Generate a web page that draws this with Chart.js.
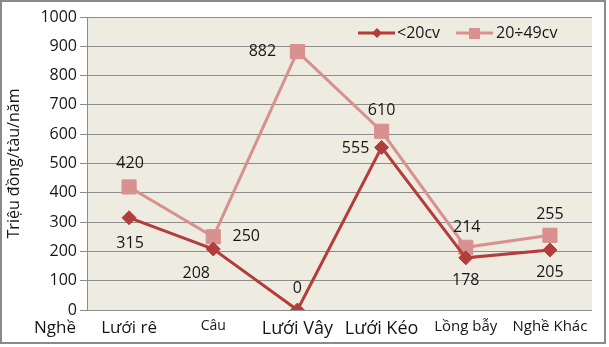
<!DOCTYPE html>
<html>
<head>
<meta charset="utf-8">
<script src="https://cdn.jsdelivr.net/npm/chart.js@4"></script>
<style>
html,body{margin:0;padding:0;background:#fff;}
#wrap{width:609px;height:347px;position:relative;}
</style>
</head>
<body>
<div id="wrap"><canvas id="c" width="609" height="347"></canvas></div>
<script>
const categories = ['Lưới rê', 'Câu', 'Lưới Vây', 'Lưới Kéo', 'Lồng bẫy', 'Nghề Khác'];
const seriesNames = ['<20cv', '20÷49cv'];
const under20 = [315, 208, 0, 555, 178, 205];
const from20to49 = [420, 250, 882, 610, 214, 255];
const yTicks = [0, 100, 200, 300, 400, 500, 600, 700, 800, 900, 1000];
const yTitle = 'Triệu đồng/tàu/năm';
const xCorner = 'Nghề';

const DARK = '#B23D3B';
const LIGHT = '#D8918F';
const TEXT = '#161616';
const FONT = "'Open Sans', sans-serif";
const catSizes = [17, 14, 18, 18, 15, 15];
// label offsets per dataset/point (dx, dy)
const labelOffsets = [
  [[1,26],[-17,24],[0,-22],[-26,1],[0,23],[0,23]],
  [[1,-24],[33,0],[-35,0],[0,-21],[1,-20],[0,-21]]
];

const framePlugin = {
  id: 'frame',
  beforeDraw(chart) {
    const ctx = chart.ctx;
    ctx.save();
    ctx.fillStyle = '#fff';
    ctx.fillRect(0, 0, chart.width, chart.height);
    const a = chart.chartArea;
    ctx.fillStyle = '#EEECE1';
    ctx.fillRect(a.left, a.top, a.right - a.left, a.bottom - a.top);
    ctx.restore();
  },
  afterDraw(chart) {
    const ctx = chart.ctx;
    ctx.save();
    ctx.strokeStyle = '#8a8a8a';
    ctx.lineWidth = 2;
    ctx.strokeRect(1, 1, 604, 342);
    // corner label
    ctx.fillStyle = TEXT;
    ctx.font = '17px ' + FONT;
    ctx.textAlign = 'center';
    ctx.textBaseline = 'middle';
    ctx.fillText(xCorner, 55, 328);
    // legend
    const ly = 33;
    ctx.lineWidth = 3;
    ctx.strokeStyle = DARK;
    ctx.beginPath(); ctx.moveTo(358, ly); ctx.lineTo(395, ly); ctx.stroke();
    ctx.fillStyle = DARK;
    ctx.beginPath();
    ctx.moveTo(377, ly - 5); ctx.lineTo(382, ly); ctx.lineTo(377, ly + 5); ctx.lineTo(372, ly);
    ctx.closePath(); ctx.fill();
    ctx.strokeStyle = LIGHT;
    ctx.beginPath(); ctx.moveTo(456, ly); ctx.lineTo(493, ly); ctx.stroke();
    ctx.fillStyle = LIGHT;
    ctx.fillRect(469, ly - 5, 11, 11);
    ctx.fillStyle = TEXT;
    ctx.font = '16px ' + FONT;
    ctx.textAlign = 'left';
    ctx.fillText(seriesNames[0], 397, ly);
    ctx.fillText(seriesNames[1], 496, ly);
    ctx.restore();
  },
  afterDatasetsDraw(chart) {
    const ctx = chart.ctx;
    ctx.save();
    ctx.fillStyle = TEXT;
    ctx.font = '16px ' + FONT;
    ctx.textAlign = 'center';
    ctx.textBaseline = 'middle';
    chart.data.datasets.forEach((ds, di) => {
      const meta = chart.getDatasetMeta(di);
      meta.data.forEach((pt, i) => {
        const o = labelOffsets[di][i];
        ctx.fillText(String(ds.data[i]), pt.x + o[0], pt.y + o[1]);
      });
    });
    ctx.restore();
  }
};

new Chart(document.getElementById('c'), {
  type: 'line',
  data: {
    labels: categories,
    datasets: [
      {
        label: seriesNames[0], data: under20,
        borderColor: DARK, backgroundColor: DARK, borderWidth: 3,
        pointStyle: 'rectRot', pointRadius: 7, pointBorderWidth: 1,
        pointBackgroundColor: DARK, pointBorderColor: DARK, tension: 0
      },
      {
        label: seriesNames[1], data: from20to49,
        borderColor: LIGHT, backgroundColor: LIGHT, borderWidth: 3,
        pointStyle: 'rect', pointRadius: 10, pointBorderWidth: 1,
        pointBackgroundColor: LIGHT, pointBorderColor: LIGHT, tension: 0
      }
    ]
  },
  options: {
    responsive: false,
    animation: false,
    layout: { padding: { left: 0, right: 17, top: 17, bottom: 0 } },
    plugins: { legend: { display: false }, tooltip: { enabled: false } },
    scales: {
      x: {
        offset: true,
        grid: { display: false, drawTicks: false },
        border: { display: false },
        ticks: {
          padding: 8,
          color: TEXT,
          maxRotation: 0, autoSkip: false,
          font: (ctx) => ({ family: FONT, size: catSizes[ctx.index] || 15 })
        },
        afterFit: (s) => { s.height = 37; }
      },
      y: {
        min: 0, max: 1000,
        afterBuildTicks: (s) => { s.ticks = yTicks.map(v => ({ value: v })); },
        grid: { color: '#8c8c8c', lineWidth: 1, tickLength: 7, drawTicks: true },
        border: { display: true, color: '#8c8c8c', width: 1 },
        ticks: {
          padding: 3, color: TEXT, font: { family: FONT, size: 16 },
          callback: (v) => String(v)
        },
        title: {
          display: true, text: yTitle, color: TEXT,
          font: { family: FONT, size: 16 }, padding: { top: 5, bottom: 0 }
        },
        afterFit: (s) => { s.width = 87; }
      }
    }
  },
  plugins: [framePlugin]
});
</script>
</body>
</html>
